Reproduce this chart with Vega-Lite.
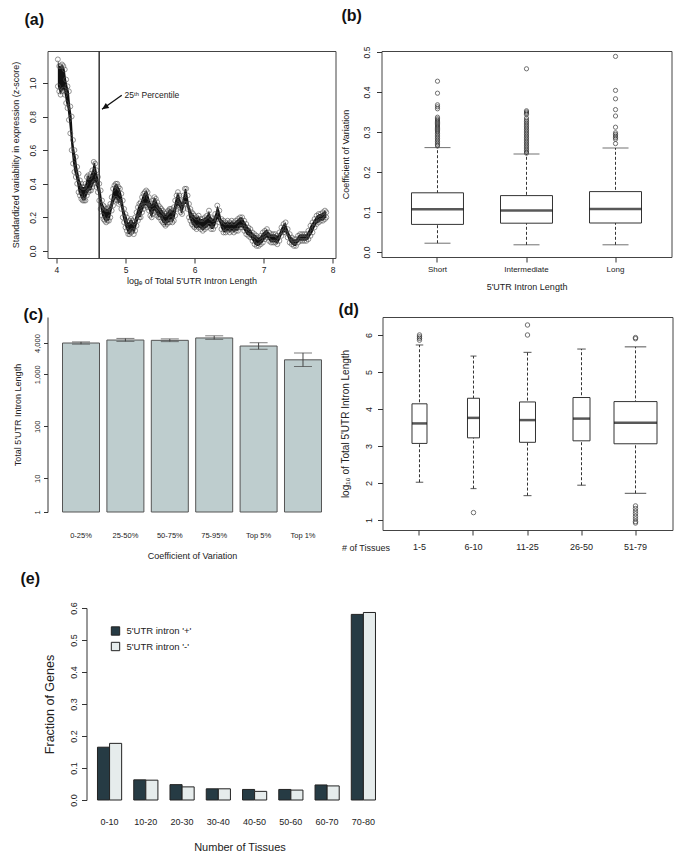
{
"$schema": "https://vega.github.io/schema/vega-lite/v6.json",
"padding": {"left": 10.5, "top": 7, "right": 5, "bottom": 5},
"background": "white",
"config": {
  "font": "Liberation Sans",
  "view": {"stroke": "#444", "strokeWidth": 1},
  "axis": {"domainColor": "#333", "tickColor": "#333", "labelColor": "#222", "titleColor": "#222", "titleFontWeight": "normal", "grid": false, "labelOverlap": false, "labelFlush": false, "tickSize": 5},
  "title": {"anchor": "start", "frame": "group", "fontSize": 16, "fontWeight": "bold", "color": "#111", "baseline": "alphabetic"}
},
"datasets": {
  "curve": [
    {"x":4.02,"lo":0.98,"hi":1.14},{"x":4.04,"lo":0.95,"hi":1.10},{"x":4.06,"lo":0.93,"hi":1.10},{"x":4.08,"lo":0.95,"hi":1.11},{"x":4.10,"lo":0.96,"hi":1.10},{"x":4.12,"lo":0.93,"hi":1.08},{"x":4.14,"lo":0.88,"hi":1.02},{"x":4.16,"lo":0.85,"hi":0.98},{"x":4.18,"lo":0.78,"hi":0.95},{"x":4.20,"lo":0.70,"hi":0.86},
    {"x":4.22,"lo":0.60,"hi":0.80},{"x":4.24,"lo":0.52,"hi":0.66},{"x":4.26,"lo":0.47,"hi":0.60},{"x":4.28,"lo":0.44,"hi":0.56},{"x":4.30,"lo":0.40,"hi":0.50},{"x":4.32,"lo":0.35,"hi":0.46},{"x":4.34,"lo":0.33,"hi":0.42},{"x":4.36,"lo":0.31,"hi":0.40},{"x":4.38,"lo":0.30,"hi":0.38},{"x":4.40,"lo":0.30,"hi":0.38},
    {"x":4.42,"lo":0.30,"hi":0.40},{"x":4.44,"lo":0.33,"hi":0.44},{"x":4.46,"lo":0.35,"hi":0.45},{"x":4.48,"lo":0.36,"hi":0.44},{"x":4.50,"lo":0.36,"hi":0.46},{"x":4.52,"lo":0.38,"hi":0.48},{"x":4.54,"lo":0.40,"hi":0.53},{"x":4.56,"lo":0.41,"hi":0.52},{"x":4.58,"lo":0.38,"hi":0.48},{"x":4.60,"lo":0.35,"hi":0.44},
    {"x":4.62,"lo":0.30,"hi":0.40},{"x":4.64,"lo":0.25,"hi":0.36},{"x":4.66,"lo":0.21,"hi":0.30},{"x":4.68,"lo":0.19,"hi":0.27},{"x":4.70,"lo":0.18,"hi":0.26},{"x":4.72,"lo":0.17,"hi":0.25},{"x":4.74,"lo":0.18,"hi":0.25},{"x":4.76,"lo":0.18,"hi":0.26},{"x":4.78,"lo":0.20,"hi":0.28},{"x":4.80,"lo":0.24,"hi":0.32},
    {"x":4.82,"lo":0.27,"hi":0.37},{"x":4.84,"lo":0.30,"hi":0.39},{"x":4.86,"lo":0.31,"hi":0.40},{"x":4.88,"lo":0.30,"hi":0.40},{"x":4.90,"lo":0.28,"hi":0.38},{"x":4.92,"lo":0.29,"hi":0.37},{"x":4.94,"lo":0.25,"hi":0.34},{"x":4.96,"lo":0.20,"hi":0.30},{"x":4.98,"lo":0.17,"hi":0.25},{"x":5.00,"lo":0.14,"hi":0.22},
    {"x":5.02,"lo":0.12,"hi":0.20},{"x":5.04,"lo":0.10,"hi":0.17},{"x":5.06,"lo":0.10,"hi":0.18},{"x":5.08,"lo":0.11,"hi":0.19},{"x":5.10,"lo":0.12,"hi":0.18},{"x":5.12,"lo":0.10,"hi":0.17},{"x":5.14,"lo":0.12,"hi":0.20},{"x":5.16,"lo":0.15,"hi":0.23},{"x":5.18,"lo":0.18,"hi":0.26},{"x":5.20,"lo":0.20,"hi":0.28},
    {"x":5.22,"lo":0.20,"hi":0.29},{"x":5.24,"lo":0.23,"hi":0.32},{"x":5.26,"lo":0.25,"hi":0.34},{"x":5.28,"lo":0.27,"hi":0.35},{"x":5.30,"lo":0.27,"hi":0.36},{"x":5.32,"lo":0.26,"hi":0.35},{"x":5.34,"lo":0.24,"hi":0.32},{"x":5.36,"lo":0.21,"hi":0.29},{"x":5.38,"lo":0.20,"hi":0.28},{"x":5.40,"lo":0.22,"hi":0.30},
    {"x":5.42,"lo":0.24,"hi":0.32},{"x":5.44,"lo":0.23,"hi":0.31},{"x":5.46,"lo":0.21,"hi":0.29},{"x":5.48,"lo":0.20,"hi":0.27},{"x":5.50,"lo":0.20,"hi":0.26},{"x":5.52,"lo":0.18,"hi":0.25},{"x":5.54,"lo":0.17,"hi":0.24},{"x":5.56,"lo":0.16,"hi":0.23},{"x":5.58,"lo":0.15,"hi":0.22},{"x":5.60,"lo":0.16,"hi":0.23},
    {"x":5.62,"lo":0.17,"hi":0.24},{"x":5.64,"lo":0.17,"hi":0.25},{"x":5.66,"lo":0.19,"hi":0.25},{"x":5.68,"lo":0.17,"hi":0.24},{"x":5.70,"lo":0.18,"hi":0.26},{"x":5.72,"lo":0.21,"hi":0.30},{"x":5.74,"lo":0.25,"hi":0.33},{"x":5.76,"lo":0.27,"hi":0.35},{"x":5.78,"lo":0.26,"hi":0.33},{"x":5.80,"lo":0.23,"hi":0.30},
    {"x":5.82,"lo":0.22,"hi":0.29},{"x":5.84,"lo":0.25,"hi":0.33},{"x":5.86,"lo":0.28,"hi":0.37},{"x":5.88,"lo":0.28,"hi":0.37},{"x":5.90,"lo":0.25,"hi":0.33},{"x":5.92,"lo":0.20,"hi":0.28},{"x":5.94,"lo":0.18,"hi":0.25},{"x":5.96,"lo":0.16,"hi":0.23},{"x":5.98,"lo":0.15,"hi":0.22},{"x":6.00,"lo":0.14,"hi":0.21},
    {"x":6.03,"lo":0.13,"hi":0.20},{"x":6.06,"lo":0.14,"hi":0.21},{"x":6.09,"lo":0.13,"hi":0.19},{"x":6.12,"lo":0.12,"hi":0.19},{"x":6.15,"lo":0.13,"hi":0.20},{"x":6.18,"lo":0.14,"hi":0.21},{"x":6.21,"lo":0.15,"hi":0.24},{"x":6.24,"lo":0.13,"hi":0.20},{"x":6.27,"lo":0.13,"hi":0.19},{"x":6.30,"lo":0.15,"hi":0.22},
    {"x":6.33,"lo":0.19,"hi":0.27},{"x":6.36,"lo":0.17,"hi":0.24},{"x":6.39,"lo":0.13,"hi":0.19},{"x":6.42,"lo":0.11,"hi":0.18},{"x":6.45,"lo":0.11,"hi":0.17},{"x":6.48,"lo":0.12,"hi":0.18},{"x":6.51,"lo":0.11,"hi":0.17},{"x":6.54,"lo":0.12,"hi":0.18},{"x":6.57,"lo":0.11,"hi":0.17},{"x":6.60,"lo":0.12,"hi":0.18},
    {"x":6.63,"lo":0.12,"hi":0.19},{"x":6.66,"lo":0.14,"hi":0.20},{"x":6.69,"lo":0.14,"hi":0.20},{"x":6.72,"lo":0.12,"hi":0.18},{"x":6.75,"lo":0.10,"hi":0.16},{"x":6.78,"lo":0.09,"hi":0.14},{"x":6.81,"lo":0.08,"hi":0.13},{"x":6.84,"lo":0.06,"hi":0.11},{"x":6.87,"lo":0.04,"hi":0.10},{"x":6.90,"lo":0.03,"hi":0.09},
    {"x":6.93,"lo":0.03,"hi":0.08},{"x":6.96,"lo":0.04,"hi":0.09},{"x":6.99,"lo":0.05,"hi":0.11},{"x":7.02,"lo":0.07,"hi":0.12},{"x":7.05,"lo":0.08,"hi":0.13},{"x":7.08,"lo":0.06,"hi":0.11},{"x":7.11,"lo":0.05,"hi":0.10},{"x":7.14,"lo":0.05,"hi":0.10},{"x":7.17,"lo":0.05,"hi":0.10},{"x":7.20,"lo":0.04,"hi":0.09},
    {"x":7.23,"lo":0.06,"hi":0.11},{"x":7.26,"lo":0.09,"hi":0.14},{"x":7.29,"lo":0.11,"hi":0.16},{"x":7.32,"lo":0.11,"hi":0.17},{"x":7.35,"lo":0.08,"hi":0.13},{"x":7.38,"lo":0.05,"hi":0.10},{"x":7.41,"lo":0.04,"hi":0.08},{"x":7.44,"lo":0.03,"hi":0.07},{"x":7.47,"lo":0.03,"hi":0.07},{"x":7.50,"lo":0.05,"hi":0.09},
    {"x":7.53,"lo":0.06,"hi":0.10},{"x":7.56,"lo":0.06,"hi":0.10},{"x":7.59,"lo":0.06,"hi":0.10},{"x":7.62,"lo":0.06,"hi":0.10},{"x":7.65,"lo":0.07,"hi":0.12},{"x":7.68,"lo":0.09,"hi":0.15},{"x":7.71,"lo":0.11,"hi":0.17},{"x":7.74,"lo":0.14,"hi":0.19},{"x":7.77,"lo":0.16,"hi":0.21},{"x":7.80,"lo":0.17,"hi":0.22},
    {"x":7.83,"lo":0.18,"hi":0.22},{"x":7.86,"lo":0.18,"hi":0.23},{"x":7.89,"lo":0.19,"hi":0.24},{"x":7.91,"lo":0.20,"hi":0.23}
  ],
  "bstats": [
    {"g":"Short","lo":0.022,"q1":0.069,"med":0.107,"q3":0.148,"hi":0.261},
    {"g":"Intermediate","lo":0.018,"q1":0.072,"med":0.104,"q3":0.141,"hi":0.245},
    {"g":"Long","lo":0.018,"q1":0.0725,"med":0.1075,"q3":0.151,"hi":0.26}
  ],
  "bout": [
    {"g":"Short","v":0.427},{"g":"Short","v":0.397},{"g":"Short","v":0.368},{"g":"Short","v":0.363},{"g":"Short","v":0.358},{"g":"Short","v":0.337},{"g":"Short","v":0.333},{"g":"Short","v":0.330},{"g":"Short","v":0.327},{"g":"Short","v":0.324},{"g":"Short","v":0.321},{"g":"Short","v":0.318},{"g":"Short","v":0.315},{"g":"Short","v":0.312},{"g":"Short","v":0.309},{"g":"Short","v":0.306},{"g":"Short","v":0.303},{"g":"Short","v":0.300},{"g":"Short","v":0.296},{"g":"Short","v":0.292},{"g":"Short","v":0.288},{"g":"Short","v":0.284},{"g":"Short","v":0.280},{"g":"Short","v":0.276},{"g":"Short","v":0.272},{"g":"Short","v":0.268},{"g":"Short","v":0.265},
    {"g":"Intermediate","v":0.458},{"g":"Intermediate","v":0.353},{"g":"Intermediate","v":0.350},{"g":"Intermediate","v":0.347},{"g":"Intermediate","v":0.344},{"g":"Intermediate","v":0.335},{"g":"Intermediate","v":0.330},{"g":"Intermediate","v":0.326},{"g":"Intermediate","v":0.322},{"g":"Intermediate","v":0.318},{"g":"Intermediate","v":0.314},{"g":"Intermediate","v":0.310},{"g":"Intermediate","v":0.306},{"g":"Intermediate","v":0.302},{"g":"Intermediate","v":0.298},{"g":"Intermediate","v":0.294},{"g":"Intermediate","v":0.290},{"g":"Intermediate","v":0.286},{"g":"Intermediate","v":0.282},{"g":"Intermediate","v":0.278},{"g":"Intermediate","v":0.274},{"g":"Intermediate","v":0.270},{"g":"Intermediate","v":0.266},{"g":"Intermediate","v":0.262},{"g":"Intermediate","v":0.258},{"g":"Intermediate","v":0.254},{"g":"Intermediate","v":0.250},{"g":"Intermediate","v":0.247},
    {"g":"Long","v":0.489},{"g":"Long","v":0.404},{"g":"Long","v":0.383},{"g":"Long","v":0.356},{"g":"Long","v":0.340},{"g":"Long","v":0.312},{"g":"Long","v":0.298},{"g":"Long","v":0.294},{"g":"Long","v":0.290},{"g":"Long","v":0.286},{"g":"Long","v":0.282},{"g":"Long","v":0.271}
  ],
  "cbars": [
    {"cat":"0-25%","v":4000,"lo":3800,"hi":4200},
    {"cat":"25-50%","v":4560,"lo":4300,"hi":4900},
    {"cat":"50-75%","v":4500,"lo":4250,"hi":4800},
    {"cat":"75-95%","v":5000,"lo":4700,"hi":5500},
    {"cat":"Top 5%","v":3500,"lo":3030,"hi":4050},
    {"cat":"Top 1%","v":1900,"lo":1410,"hi":2580}
  ],
  "dstats": [
    {"g":"1-5","n":365,"lo":2.02,"q1":3.07,"med":3.61,"q3":4.14,"hi":5.73},
    {"g":"6-10","n":234,"lo":1.85,"q1":3.22,"med":3.76,"q3":4.29,"hi":5.43},
    {"g":"11-25","n":415,"lo":1.66,"q1":3.10,"med":3.70,"q3":4.19,"hi":5.53},
    {"g":"26-50","n":469,"lo":1.94,"q1":3.14,"med":3.74,"q3":4.31,"hi":5.62},
    {"g":"51-79","n":3000,"lo":1.72,"q1":3.06,"med":3.63,"q3":4.20,"hi":5.68}
  ],
  "dout": [
    {"g":"1-5","v":6.0},{"g":"1-5","v":5.95},{"g":"1-5","v":5.91},{"g":"1-5","v":5.86},
    {"g":"6-10","v":1.2},
    {"g":"11-25","v":6.27},{"g":"11-25","v":6.0},
    {"g":"51-79","v":5.93},{"g":"51-79","v":5.90},{"g":"51-79","v":1.38},{"g":"51-79","v":1.31},{"g":"51-79","v":1.24},{"g":"51-79","v":1.17},{"g":"51-79","v":1.10},{"g":"51-79","v":1.03},{"g":"51-79","v":0.96},{"g":"51-79","v":0.92}
  ],
  "ebars": [
    {"t":"0-10","s":"5'UTR intron '+'","f":0.165},{"t":"0-10","s":"5'UTR intron '-'","f":0.177},
    {"t":"10-20","s":"5'UTR intron '+'","f":0.063},{"t":"10-20","s":"5'UTR intron '-'","f":0.062},
    {"t":"20-30","s":"5'UTR intron '+'","f":0.048},{"t":"20-30","s":"5'UTR intron '-'","f":0.041},
    {"t":"30-40","s":"5'UTR intron '+'","f":0.035},{"t":"30-40","s":"5'UTR intron '-'","f":0.035},
    {"t":"40-50","s":"5'UTR intron '+'","f":0.033},{"t":"40-50","s":"5'UTR intron '-'","f":0.027},
    {"t":"50-60","s":"5'UTR intron '+'","f":0.033},{"t":"50-60","s":"5'UTR intron '-'","f":0.031},
    {"t":"60-70","s":"5'UTR intron '+'","f":0.047},{"t":"60-70","s":"5'UTR intron '-'","f":0.044},
    {"t":"70-80","s":"5'UTR intron '+'","f":0.580},{"t":"70-80","s":"5'UTR intron '-'","f":0.586}
  ]
},
"spacing": 9,
"resolve": {"legend": {"color": "independent", "size": "independent"}, "scale": {"color": "independent", "size": "independent"}},
"vconcat": [
  {
    "spacing": 4,
    "hconcat": [
      {
        "width": 288, "height": 207,
        "title": {"text": "(a)", "dx": -23, "offset": 22},
        "layer": [
          {"data": {"name": "curve"}, "mark": {"type": "area", "color": "#111"},
           "encoding": {
             "x": {"field": "x", "type": "quantitative", "scale": {"domain": [3.87, 8.043], "nice": false, "zero": false},
                   "axis": {"values": [4,5,6,7,8], "format": "d", "title": "logₑ of Total 5'UTR Intron Length", "domain": false, "labelFontSize": 8.5, "labelPadding": 2, "titleFontSize": 9, "titlePadding": 3}},
             "y": {"field": "lo", "type": "quantitative", "scale": {"domain": [-0.042, 1.19], "nice": false, "zero": false},
                   "axis": {"values": [0,0.2,0.4,0.6,0.8,1], "format": ".1f", "title": "Standardized variability in expression (z-score)", "domain": false, "labelAngle": -90, "labelAlign": "center", "labelBaseline": "bottom", "labelPadding": 5, "labelFontSize": 8.5, "titleFontSize": 9, "titlePadding": 8}},
             "y2": {"field": "hi"}
           }},
          {"data": {"name": "curve"}, "mark": {"type": "point", "filled": false, "color": "#555", "size": 24, "strokeWidth": 0.9},
           "encoding": {"x": {"field": "x", "type": "quantitative"}, "y": {"field": "lo", "type": "quantitative"}}},
          {"data": {"name": "curve"}, "mark": {"type": "point", "filled": false, "color": "#555", "size": 24, "strokeWidth": 0.9},
           "encoding": {"x": {"field": "x", "type": "quantitative"}, "y": {"field": "hi", "type": "quantitative"}}},
          {"data": {"values": [{"p": 4.619}]}, "mark": {"type": "rule", "color": "#333", "strokeWidth": 1.5},
           "encoding": {"x": {"field": "p", "type": "quantitative"}}},
          {"data": {"values": [{"x1": 4.946, "y1": 0.927, "x2": 4.66, "y2": 0.843}]}, "mark": {"type": "rule", "color": "#111", "strokeWidth": 1.3},
           "encoding": {"x": {"field": "x1", "type": "quantitative"}, "y": {"field": "y1", "type": "quantitative"}, "x2": {"field": "x2"}, "y2": {"field": "y2"}}},
          {"data": {"values": [{"x2": 4.66, "y2": 0.843}]}, "mark": {"type": "point", "shape": "M0,0L-0.5,1.1L0.5,1.1Z", "angle": 235, "size": 150, "filled": true, "color": "#111", "opacity": 1},
           "encoding": {"x": {"field": "x2", "type": "quantitative"}, "y": {"field": "y2", "type": "quantitative"}}},
          {"data": {"values": [{"x": 4.986, "y": 0.929, "label": "25ᵗʰ Percentile"}]}, "mark": {"type": "text", "align": "left", "baseline": "middle", "fontSize": 8.5, "color": "#222"},
           "encoding": {"x": {"field": "x", "type": "quantitative"}, "y": {"field": "y", "type": "quantitative"}, "text": {"field": "label"}}}
        ]
      },
      {
        "width": 290, "height": 206,
        "title": {"text": "(b)", "dx": -40, "offset": 22},
        "encoding": {
          "x": {"field": "g", "type": "nominal", "sort": null, "scale": {"domain": ["Short","Intermediate","Long"], "paddingInner": 0.416, "paddingOuter": 0.337},
                "axis": {"title": "5'UTR Intron Length", "domain": false, "labelAngle": 0, "labelFontSize": 8, "labelPadding": 3, "titleFontSize": 9, "titlePadding": 9}}
        },
        "layer": [
          {"data": {"name": "bstats"}, "mark": {"type": "rule", "color": "#333", "strokeDash": [3,2], "strokeWidth": 1},
           "encoding": {"y": {"field": "lo", "type": "quantitative", "scale": {"domain": [-0.0125, 0.5025], "nice": false, "zero": false},
                              "axis": {"values": [0,0.1,0.2,0.3,0.4,0.5], "format": ".1f", "title": "Coefficient of Variation", "domain": false, "labelAngle": -90, "labelAlign": "center", "labelBaseline": "bottom", "labelPadding": 5, "labelFontSize": 8.5, "titleFontSize": 9, "titlePadding": 12}},
                        "y2": {"field": "hi"}}},
          {"data": {"name": "bstats"}, "mark": {"type": "bar", "fill": "white", "stroke": "#333", "strokeWidth": 1},
           "encoding": {"y": {"field": "q1", "type": "quantitative"}, "y2": {"field": "q3"}}},
          {"data": {"name": "bstats"}, "mark": {"type": "tick", "color": "#111", "size": 52, "thickness": 2.5},
           "encoding": {"y": {"field": "med", "type": "quantitative"}}},
          {"data": {"name": "bstats"}, "mark": {"type": "tick", "color": "#333", "size": 26, "thickness": 1},
           "encoding": {"y": {"field": "lo", "type": "quantitative"}}},
          {"data": {"name": "bstats"}, "mark": {"type": "tick", "color": "#333", "size": 26, "thickness": 1},
           "encoding": {"y": {"field": "hi", "type": "quantitative"}}},
          {"data": {"name": "bout"}, "mark": {"type": "point", "filled": false, "color": "#333", "size": 18, "strokeWidth": 1},
           "encoding": {"y": {"field": "v", "type": "quantitative"}}}
        ]
      }
    ]
  },
  {
    "spacing": 1,
    "hconcat": [
      {
        "width": 289, "height": 195,
        "title": {"text": "(c)", "dx": -24, "offset": -6},
        "view": {"stroke": null},
        "data": {"name": "cbars"},
        "encoding": {
          "x": {"field": "cat", "type": "nominal", "sort": null, "scale": {"paddingInner": 0.1667, "paddingOuter": 0.338},
                "axis": {"title": "Coefficient of Variation", "domain": false, "ticks": false, "labelAngle": 0, "labelPadding": 19, "labelFontSize": 7.5, "titleFontSize": 9, "titlePadding": 13}}
        },
        "layer": [
          {"mark": {"type": "bar", "fill": "#BECDCE", "stroke": "#555", "strokeWidth": 1},
           "encoding": {"y": {"field": "v", "type": "quantitative", "scale": {"type": "log", "domain": [2.25, 12650], "nice": false},
                              "axis": {"values": [2.25, 10, 100, 1000, 4000], "labelExpr": "datum.value < 5 ? '1' : format(datum.value, ',')", "title": "Total 5'UTR Intron Length", "domain": true, "tickSize": 4, "labelAngle": -90, "labelAlign": "center", "labelBaseline": "bottom", "labelPadding": 2, "labelFontSize": 7.5, "titleFontSize": 9, "titlePadding": 11}},
                        "y2": {"datum": 2.25}}},
          {"mark": {"type": "rule", "color": "#444", "strokeWidth": 1},
           "encoding": {"y": {"field": "lo", "type": "quantitative"}, "y2": {"field": "hi"}}},
          {"mark": {"type": "tick", "color": "#444", "size": 18, "thickness": 1},
           "encoding": {"y": {"field": "lo", "type": "quantitative"}}},
          {"mark": {"type": "tick", "color": "#444", "size": 18, "thickness": 1},
           "encoding": {"y": {"field": "hi", "type": "quantitative"}}}
        ]
      },
      {
        "width": 290, "height": 213,
        "title": {"text": "(d)", "dx": -44, "offset": -1},
        "encoding": {
          "x": {"field": "g", "type": "nominal", "sort": null, "scale": {"domain": ["1-5","6-10","11-25","26-50","51-79"], "paddingInner": 0.2, "paddingOuter": 0.285},
                "axis": {"title": "# of Tissues", "titleX": -17, "titleY": 17.5, "titleAngle": 0, "titleAlign": "center", "titleBaseline": "middle", "titleFontSize": 9, "domain": false, "labelAngle": 0, "labelPadding": 7, "labelFontSize": 9}}
        },
        "resolve": {"scale": {"size": "independent"}},
        "layer": [
          {"data": {"name": "dstats"}, "mark": {"type": "rule", "color": "#333", "strokeDash": [3,2], "strokeWidth": 1},
           "encoding": {"y": {"field": "lo", "type": "quantitative", "scale": {"domain": [0.73, 6.486], "nice": false, "zero": false},
                              "axis": {"values": [1,2,3,4,5,6], "format": "d", "title": "log₁₀ of Total 5'UTR Intron Length", "domain": false, "labelAngle": -90, "labelAlign": "center", "labelBaseline": "bottom", "labelPadding": 4, "labelFontSize": 9, "titleFontSize": 10, "titlePadding": 14}},
                        "y2": {"field": "hi"}}},
          {"data": {"name": "dstats"}, "mark": {"type": "bar", "fill": "white", "stroke": "#333", "strokeWidth": 1},
           "encoding": {"y": {"field": "q1", "type": "quantitative"}, "y2": {"field": "q3"},
                        "size": {"field": "n", "type": "quantitative", "scale": {"type": "sqrt", "domain": [0, 3000], "range": [0, 43]}, "legend": null}}},
          {"data": {"name": "dstats"}, "mark": {"type": "tick", "color": "#111", "thickness": 2.5},
           "encoding": {"y": {"field": "med", "type": "quantitative"},
                        "size": {"field": "n", "type": "quantitative", "scale": {"type": "sqrt", "domain": [0, 3000], "range": [0, 43]}, "legend": null}}},
          {"data": {"name": "dstats"}, "mark": {"type": "tick", "color": "#333", "thickness": 1.2},
           "encoding": {"y": {"field": "lo", "type": "quantitative"},
                        "size": {"field": "n", "type": "quantitative", "scale": {"type": "sqrt", "domain": [0, 3000], "range": [0, 21.5]}, "legend": null}}},
          {"data": {"name": "dstats"}, "mark": {"type": "tick", "color": "#333", "thickness": 1.2},
           "encoding": {"y": {"field": "hi", "type": "quantitative"},
                        "size": {"field": "n", "type": "quantitative", "scale": {"type": "sqrt", "domain": [0, 3000], "range": [0, 21.5]}, "legend": null}}},
          {"data": {"name": "dout"}, "mark": {"type": "point", "filled": false, "color": "#333", "size": 20, "strokeWidth": 1},
           "encoding": {"y": {"field": "v", "type": "quantitative"}}}
        ]
      }
    ]
  },
  {
    "width": 340, "height": 192,
    "title": {"text": "(e)", "dx": -27, "offset": 15},
    "view": {"stroke": null},
    "data": {"name": "ebars"},
    "mark": {"type": "bar", "stroke": "#222", "strokeWidth": 1},
    "encoding": {
      "x": {"field": "t", "type": "nominal", "sort": null, "scale": {"paddingInner": 0.3333, "paddingOuter": 0.855, "align": 0.806},
            "axis": {"title": "Number of Tissues", "titleX": 192, "domain": false, "ticks": false, "labelAngle": 0, "labelPadding": 17, "labelFontSize": 9, "titleFontSize": 11, "titlePadding": 15}},
      "xOffset": {"field": "s", "type": "nominal", "sort": null, "scale": {"domain": ["5'UTR intron '+'", "5'UTR intron '-'"], "paddingInner": 0, "paddingOuter": 0}},
      "y": {"field": "f", "type": "quantitative", "scale": {"domain": [0, 0.6], "nice": false},
            "axis": {"values": [0,0.1,0.2,0.3,0.4,0.5,0.6], "format": ".1f", "title": "Fraction of Genes", "offset": -39, "domain": true, "labelAngle": -90, "labelAlign": "center", "labelBaseline": "bottom", "labelPadding": 3, "labelFontSize": 9, "titleFontSize": 12.5, "titlePadding": 13}},
      "color": {"field": "s", "type": "nominal", "scale": {"domain": ["5'UTR intron '+'", "5'UTR intron '-'"], "range": ["#263B44", "#E6ECEC"]},
                "legend": {"title": null, "orient": "none", "legendX": 63, "legendY": 18, "symbolType": "square", "symbolSize": 70, "symbolStrokeColor": "#222", "symbolStrokeWidth": 1, "symbolOpacity": 1, "labelFontSize": 9.5, "labelColor": "#222", "labelOffset": 6, "rowPadding": 1.5, "padding": 0}}
    }
  }
]
}
